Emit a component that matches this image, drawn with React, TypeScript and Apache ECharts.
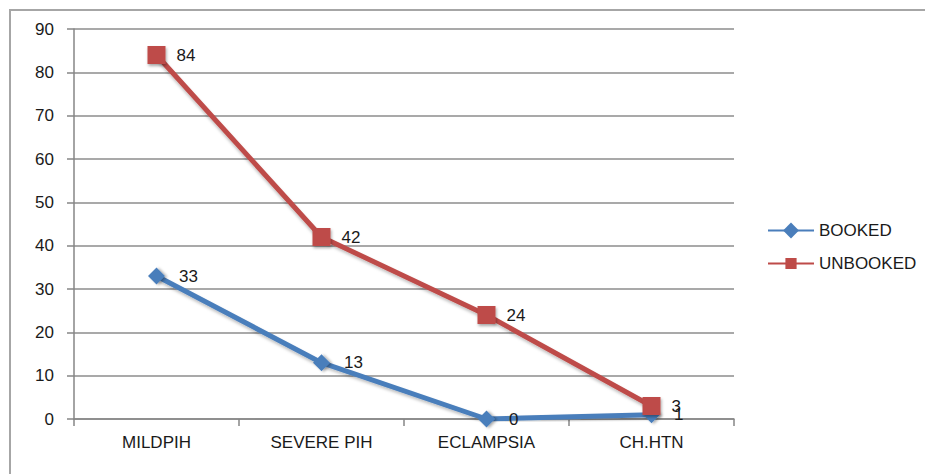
import React, { useEffect, useRef } from "react";
import * as echarts from "echarts";

const categories = ["MILDPIH", "SEVERE PIH", "ECLAMPSIA", "CH.HTN"];
const booked = [33, 13, 0, 1];
const unbooked = [84, 42, 24, 3];
const yTicks = { min: 0, max: 90, interval: 10 };

const FONT = "Liberation Sans";

export default function App() {
  const ref = useRef<HTMLDivElement>(null);
  useEffect(() => {
    const chart = echarts.init(ref.current!, null, { renderer: "svg" });
    chart.setOption({
      animation: false,
      backgroundColor: "#ffffff",
      textStyle: { fontFamily: FONT },
      graphic: [
        {
          type: "rect",
          shape: { x: 10, y: 10, width: 940, height: 500 },
          style: { fill: "none", stroke: "#a6a6a6", lineWidth: 2 },
          silent: true,
        },
      ],
      grid: { left: 74, right: 191, top: 29, bottom: 55 },
      legend: {
        orient: "vertical",
        left: 762,
        top: 217,
        itemGap: 16,
        itemWidth: 46,
        itemHeight: 14,
        textStyle: { fontFamily: FONT, fontSize: 17, color: "#1a1a1a" },
        data: ["BOOKED", "UNBOOKED"],
      },
      xAxis: {
        type: "category",
        data: categories,
        boundaryGap: true,
        axisLine: { lineStyle: { color: "#868686", width: 1.5 } },
        axisTick: { show: true, length: 7, inside: false, lineStyle: { color: "#868686", width: 1.5 } },
        axisLabel: { fontFamily: FONT, fontSize: 17, color: "#1a1a1a", margin: 15 },
        splitLine: { show: false },
      },
      yAxis: {
        type: "value",
        min: yTicks.min,
        max: yTicks.max,
        interval: yTicks.interval,
        axisLine: { show: true, lineStyle: { color: "#868686", width: 1.5 } },
        axisTick: { show: true, length: 7, lineStyle: { color: "#868686", width: 1.5 } },
        axisLabel: { fontFamily: FONT, fontSize: 17, color: "#1a1a1a", margin: 20 },
        splitLine: { show: true, lineStyle: { color: "#8c8c8c", width: 1.5 } },
      },
      series: [
        {
          name: "BOOKED",
          type: "line",
          data: booked,
          symbol: "rect",
          symbolSize: 12,
          symbolRotate: 45,
          itemStyle: { color: "#4A7EBB", shadowColor: "rgba(0,0,0,0.35)", shadowBlur: 3, shadowOffsetX: 1, shadowOffsetY: 2 },
          lineStyle: { color: "#4A7EBB", width: 5, shadowColor: "rgba(0,0,0,0.25)", shadowBlur: 3, shadowOffsetY: 2 },
          label: {
            show: true,
            position: "right",
            distance: 14,
            fontFamily: FONT,
            fontSize: 17,
            color: "#1a1a1a",
          },
          z: 3,
        },
        {
          name: "UNBOOKED",
          type: "line",
          data: unbooked,
          symbol: "rect",
          symbolSize: 18,
          itemStyle: { color: "#BE4B48", shadowColor: "rgba(0,0,0,0.35)", shadowBlur: 3, shadowOffsetX: 1, shadowOffsetY: 2 },
          lineStyle: { color: "#BE4B48", width: 5, shadowColor: "rgba(0,0,0,0.25)", shadowBlur: 3, shadowOffsetY: 2 },
          label: {
            show: true,
            position: "right",
            distance: 11,
            fontFamily: FONT,
            fontSize: 17,
            color: "#1a1a1a",
          },
          z: 4,
        },
      ],
    });
    return () => chart.dispose();
  }, []);
  return (
    <div
      ref={ref}
      style={{ position: "fixed", left: 0, top: 0, width: 925, height: 474, background: "#fff" }}
    />
  );
}
